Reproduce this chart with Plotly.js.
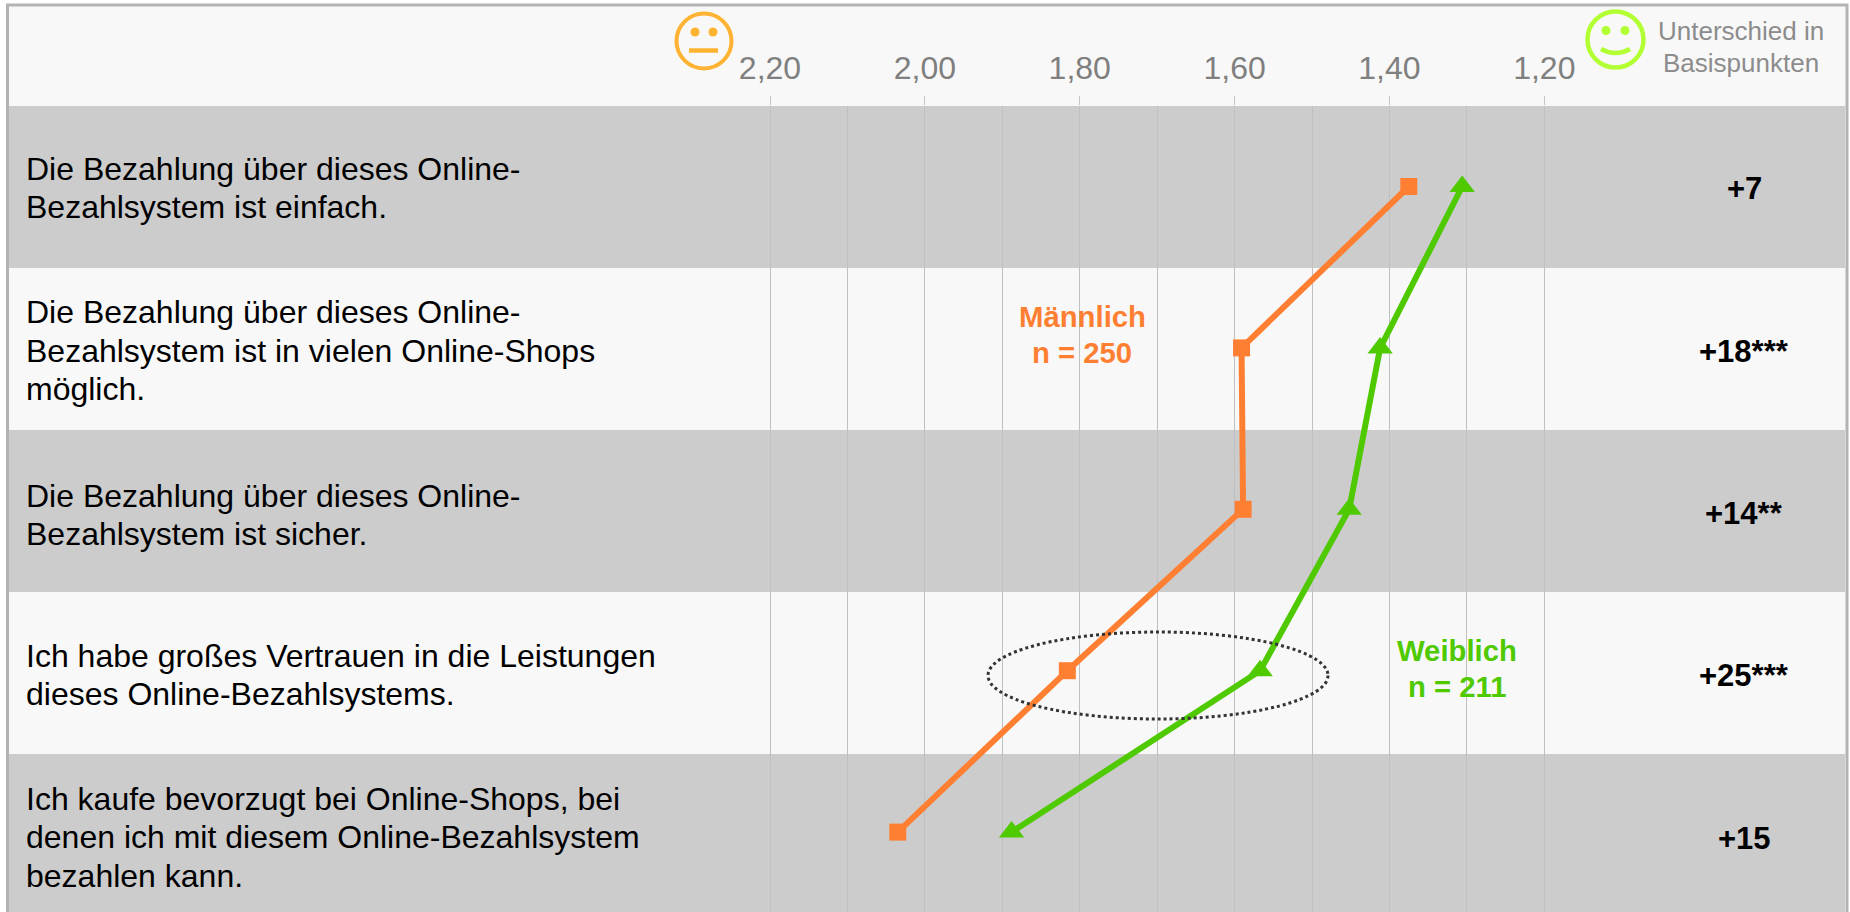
<!DOCTYPE html>
<html><head><meta charset="utf-8">
<script src="https://cdn.plot.ly/plotly-3.0.1.min.js"></script>
<style>html,body{margin:0;padding:0;background:#fff;overflow:hidden}#c{width:1850px;height:912px}</style>
</head><body><div id="c"></div>
<script>
const rowIndex = [0, 1, 2, 3, 4];
const maleValues = [1.375, 1.591, 1.589, 1.816, 2.035];
const femaleValues = [1.306, 1.412, 1.452, 1.567, 1.888];
const tickValues = [2.2, 2.0, 1.8, 1.6, 1.4, 1.2];
const minorTickValues = [2.1, 1.9, 1.7, 1.5, 1.3];
const statementLines = [
  ["Die Bezahlung über dieses Online-", "Bezahlsystem ist einfach."],
  ["Die Bezahlung über dieses Online-", "Bezahlsystem ist in vielen Online-Shops", "möglich."],
  ["Die Bezahlung über dieses Online-", "Bezahlsystem ist sicher."],
  ["Ich habe großes Vertrauen in die Leistungen", "dieses Online-Bezahlsystems."],
  ["Ich kaufe bevorzugt bei Online-Shops, bei", "denen ich mit diesem Online-Bezahlsystem", "bezahlen kann."]
];
const diffLabels = ["+7", "+18***", "+14**", "+25***", "+15"];

const W = 1850, H = 912, TOP = 106, ROW = 161.4, Y0 = 186.5, BAND = 162;
const FONT = "Liberation Sans, Arial, sans-serif";
const px = v => v / W;
const py = v => 1 - (v - TOP) / (H - TOP);
const xv = p => 2.2 - (p - 770) / 774.3;
const yv = p => (p - Y0) / ROW;
const ORANGE = "#ff7f32", GREEN = "#4fc900";
const textShift = [1.5, 3, 5.5, 4.5, 5];
const diffShift = [1.5, 4, 4.5, 5, 6];

const shapes = [];
shapes.push({type:"rect", xref:"paper", yref:"paper", x0:px(8), x1:px(1847), y0:py(912), y1:py(5), fillcolor:"#f8f8f8", line:{width:0}, layer:"below"});
rowIndex.forEach(i => { if (i % 2 === 0) shapes.push({type:"rect", xref:"paper", yref:"paper", x0:px(8), x1:px(1845), y0:py(Math.min(H, TOP+BAND*(i+1))), y1:py(TOP+BAND*i), fillcolor:"#cccccc", line:{width:0}, layer:"below"}); });
shapes.push({type:"path", xref:"paper", yref:"paper", path:`M${px(7.5)},${py(912)} L${px(7.5)},${py(5)} L${px(1847)},${py(5)} L${px(1847)},${py(912)}`, line:{color:"#b3b3b3", width:3}, layer:"above"});
shapes.push({type:"circle", xref:"x", yref:"y", x0:xv(988), x1:xv(1328), y0:yv(632), y1:yv(719), line:{color:"#333333", width:3, dash:"dot"}, layer:"above"});

function circleShape(cx, cy, r, o) { return Object.assign({type:"circle", xref:"paper", yref:"paper", x0:px(cx-r), x1:px(cx+r), y0:py(cy+r), y1:py(cy-r), layer:"above"}, o); }
const AMBER = "#ffb333", LIME = "#b2ff33";
shapes.push(circleShape(704, 41, 27.5, {line:{color:AMBER, width:4}}));
shapes.push(circleShape(695, 32, 4.5, {fillcolor:AMBER, line:{width:0}}));
shapes.push(circleShape(713, 32, 4.5, {fillcolor:AMBER, line:{width:0}}));
shapes.push({type:"path", xref:"paper", yref:"paper", path:`M${px(689)},${py(50.5)} L${px(718)},${py(50.5)}`, line:{color:AMBER, width:4.5}, layer:"above"});
shapes.push(circleShape(1615.5, 39.5, 28, {line:{color:LIME, width:4.5}}));
shapes.push(circleShape(1606, 30.5, 4.5, {fillcolor:LIME, line:{width:0}}));
shapes.push(circleShape(1625, 30.5, 4.5, {fillcolor:LIME, line:{width:0}}));
shapes.push({type:"path", xref:"paper", yref:"paper", path:`M${px(1601)},${py(49)} Q${px(1615.5)},${py(57)} ${px(1630)},${py(49)}`, line:{color:LIME, width:4.5}, layer:"above"});

const annotations = [];
const LH = 38.5;
statementLines.forEach((lines, i) => {
  lines.forEach((t, j) => {
    annotations.push({xref:"paper", yref:"y", x:px(24), y:i, xanchor:"left", yanchor:"middle", showarrow:false, align:"left",
      yshift:-(j-(lines.length-1)/2)*LH - textShift[i], text:t, font:{family:FONT, size:32, color:"#000000"}});
  });
});
diffLabels.forEach((t, i) => {
  annotations.push({xref:"paper", yref:"y", x:px(1744), y:i, yshift:-diffShift[i], xanchor:"center", yanchor:"middle", showarrow:false, text:`<b>${t}</b>`, font:{family:FONT, size:31, color:"#000000"}});
});
function label(x, y, t, color, size, bold) {
  annotations.push({xref:"paper", yref:"paper", x:px(x), y:py(y), xanchor:"center", yanchor:"middle", showarrow:false, text:bold?`<b>${t}</b>`:t, font:{family:FONT, size, color}});
}
label(1082, 316.5, "Männlich", ORANGE, 29.3, true);
label(1082, 352, "n = 250", ORANGE, 29.3, true);
label(1457, 650, "Weiblich", GREEN, 29.3, true);
label(1457, 686, "n = 211", GREEN, 29.3, true);
label(1741, 31, "Unterschied in", "#8c8c8c", 26, false);
label(1741, 63, "Basispunkten", "#8c8c8c", 26, false);

const traces = [
  {x:maleValues, y:rowIndex, name:"Männlich", type:"scatter", mode:"lines+markers", line:{color:ORANGE, width:6}, marker:{symbol:"square", size:17, color:ORANGE}},
  {x:femaleValues, y:rowIndex, name:"Weiblich", type:"scatter", mode:"lines+markers", line:{color:GREEN, width:6}, marker:{symbol:"triangle-up", size:22, color:GREEN}}
];
const layout = {
  width:W, height:H, showlegend:false, separators:",.",
  paper_bgcolor:"#ffffff", plot_bgcolor:"rgba(0,0,0,0)",
  margin:{l:0, r:0, t:TOP, b:0, pad:0}, hovermode:false,
  xaxis:{side:"top", range:[xv(0), xv(W)], tickmode:"array", tickvals:tickValues, tickformat:".2f",
    ticks:"outside", ticklen:9, tickwidth:1, tickcolor:"#c6c6c6", showline:false, zeroline:false,
    showgrid:true, gridcolor:"#c0c0c0", gridwidth:1, ticklabelstandoff:4,
    minor:{tickmode:"array", tickvals:minorTickValues, showgrid:true, gridcolor:"#c0c0c0", gridwidth:1, ticks:""},
    tickfont:{family:FONT, size:32, color:"#7f7f7f"}},
  yaxis:{range:[yv(H), yv(TOP)], showgrid:false, zeroline:false, showline:false, showticklabels:false, ticks:""},
  shapes, annotations
};
Plotly.newPlot("c", traces, layout, {displayModeBar:false, staticPlot:true});
</script></body></html>
